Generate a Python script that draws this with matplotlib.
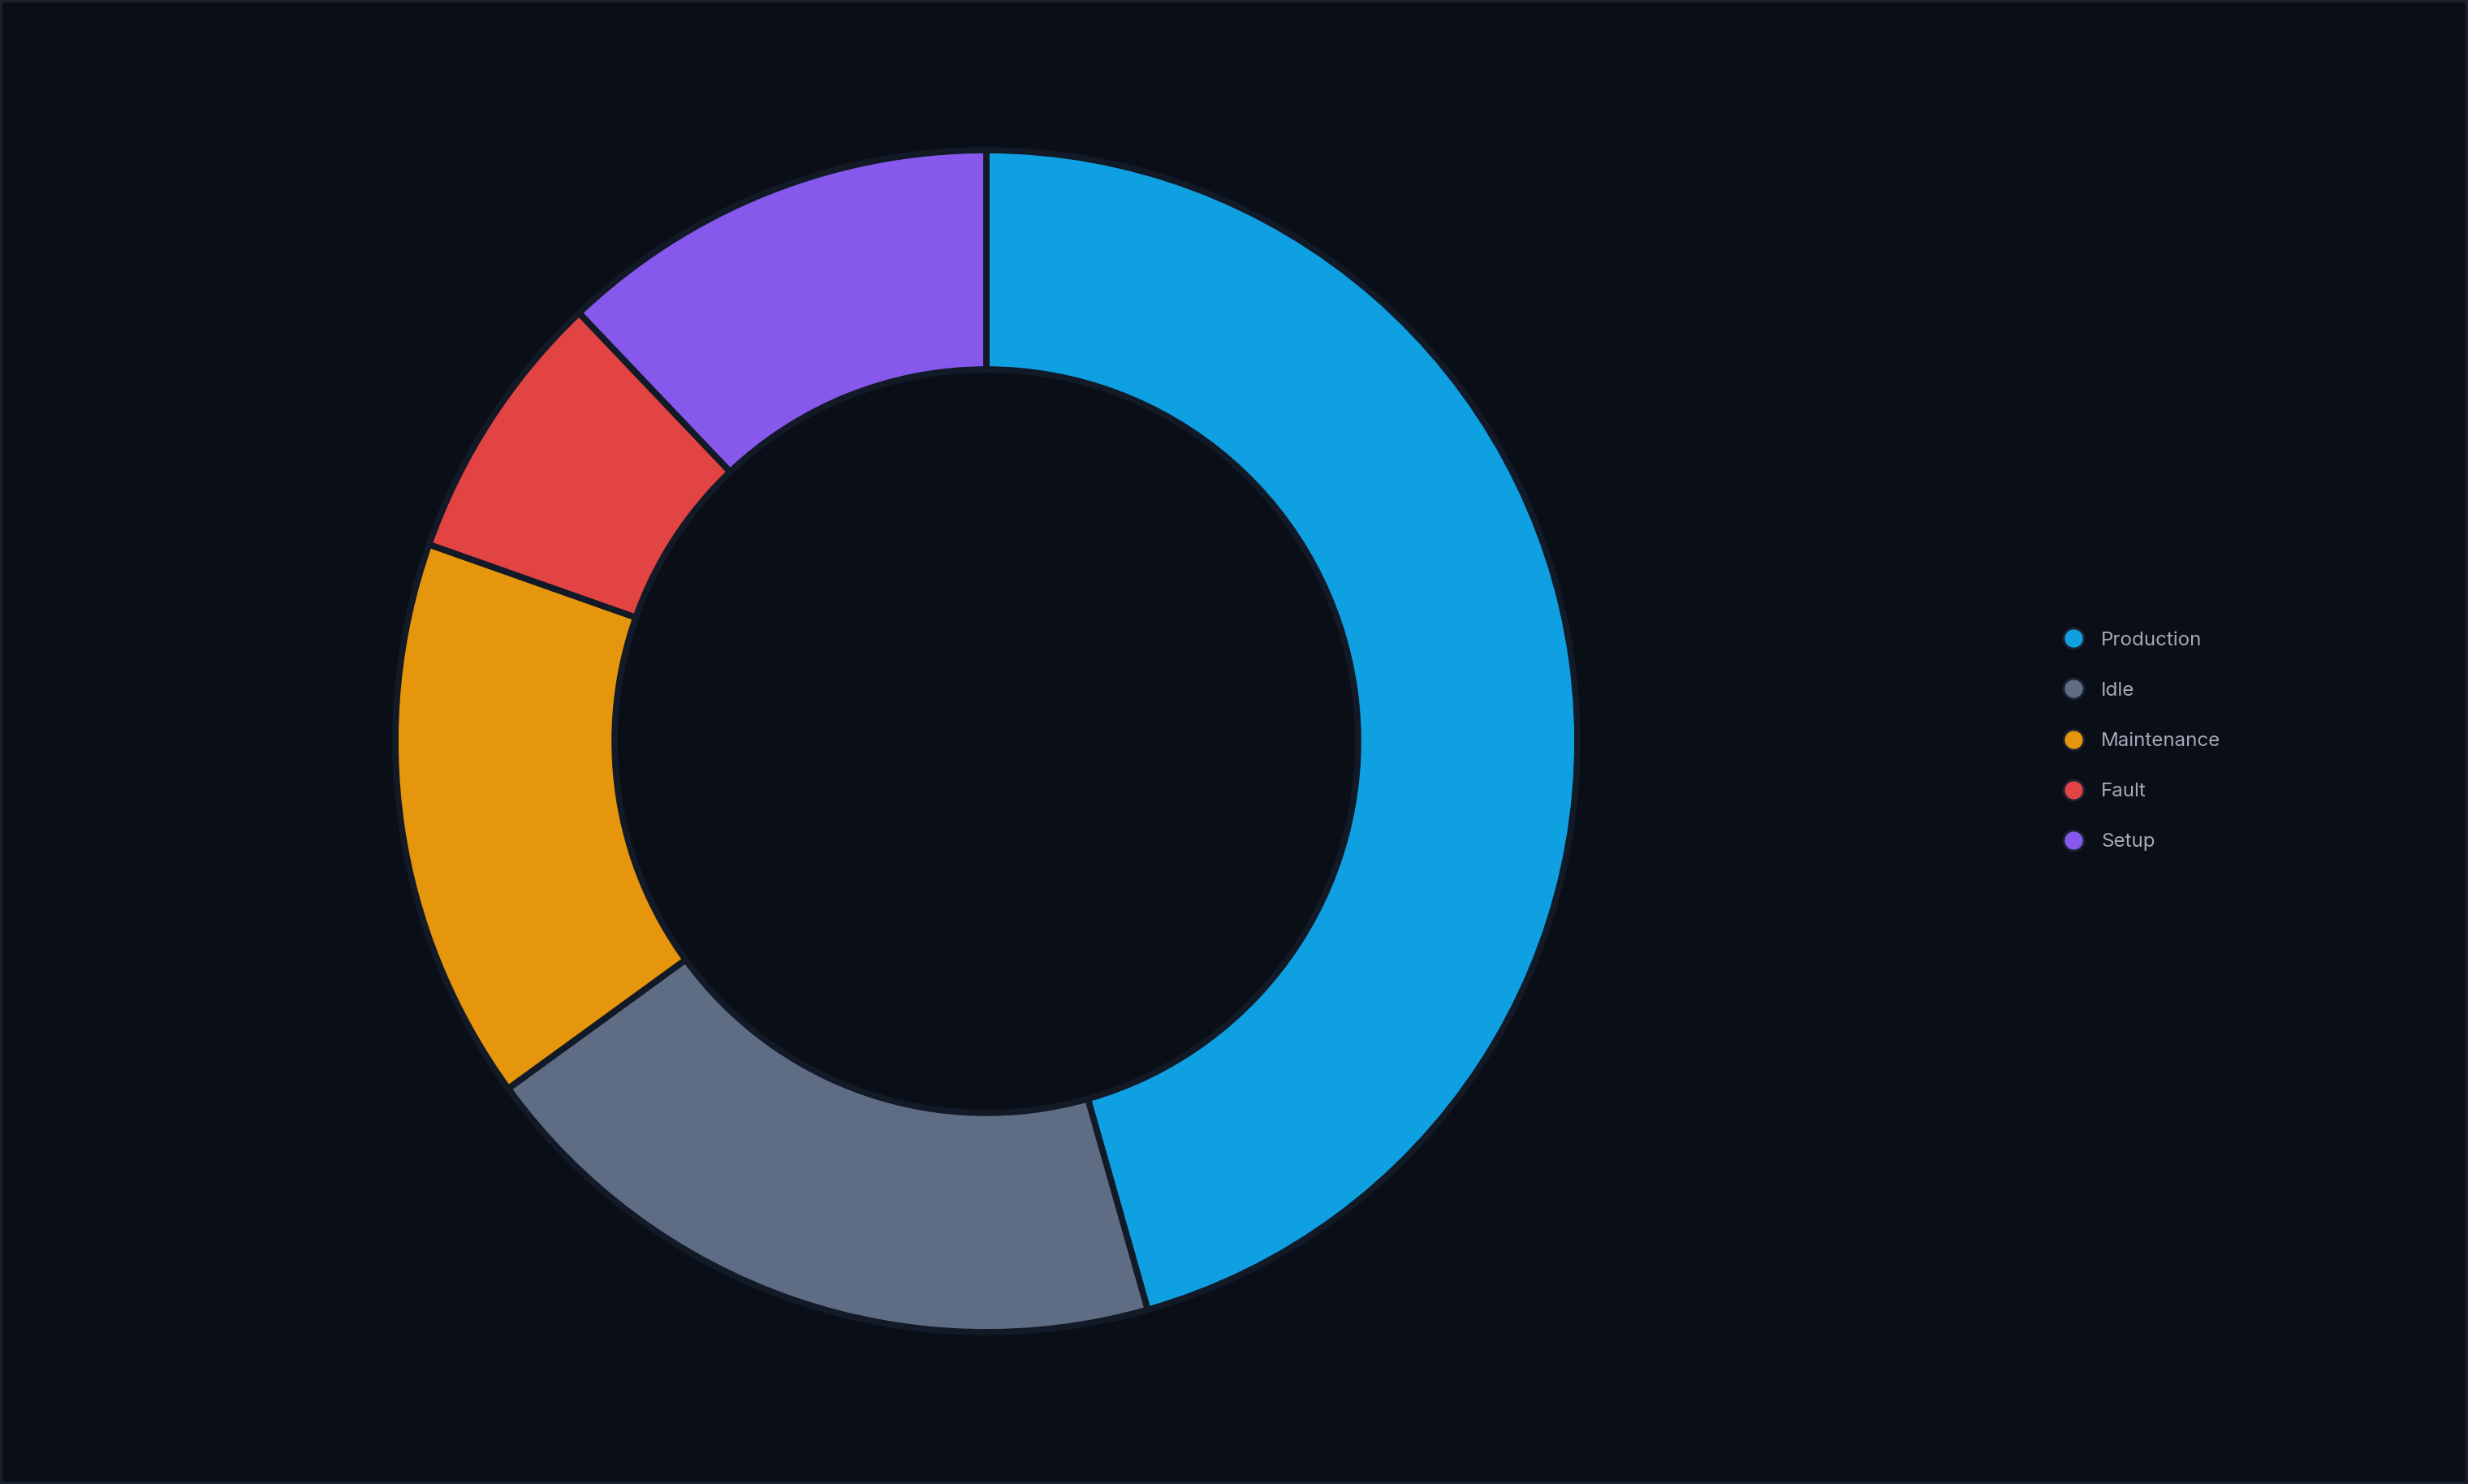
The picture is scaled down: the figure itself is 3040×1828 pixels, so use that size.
import matplotlib
matplotlib.use("Agg")
import matplotlib.pyplot as plt
from matplotlib.lines import Line2D

categories = ["Production", "Idle", "Maintenance", "Fault", "Setup"]
values = [45.6, 19.4, 15.4, 7.5, 12.1]
colors = ["#0fa0e2", "#5f6d84", "#e6960c", "#e24343", "#8658ec"]

BG = "#0a0e17"
W, H = 3040, 1828
DPI = 200

plt.rcParams['font.family'] = ['Inter', 'DejaVu Sans']

fig = plt.figure(figsize=(W / DPI, H / DPI), dpi=DPI, facecolor=BG)
fig.patch.set_edgecolor("#1b212c")
fig.patch.set_linewidth(1.5)

cx, cy, R = 1215, 915, 728
ax = fig.add_axes([(cx - R) / W, (cy - R) / H, 2 * R / W, 2 * R / H])
ax.set_facecolor(BG)

wedges, _ = ax.pie(values, colors=colors, startangle=90, counterclock=False,
                   radius=1.0,
                   wedgeprops=dict(width=0.371, edgecolor="#121927", linewidth=2.8,
                                   joinstyle="round"))
ax.set_xlim(-1, 1)
ax.set_ylim(-1, 1)
ax.set_aspect("equal")
ax.axis("off")

handles = [Line2D([0], [0], marker="o", linestyle="none", markersize=9,
                  markerfacecolor=c, markeredgecolor="#1b2333", markeredgewidth=1.0)
           for c in colors]
leg = fig.legend(handles, categories, loc="center left",
                 bbox_to_anchor=(2530 / W, 1 - 913 / H),
                 frameon=False, fontsize=8.7, labelcolor="#a3aab8",
                 labelspacing=1.66, handlelength=1.0, handletextpad=0.9,
                 borderpad=0.0)

fig.savefig("out.png", dpi=DPI, facecolor=BG, edgecolor=fig.patch.get_edgecolor())
